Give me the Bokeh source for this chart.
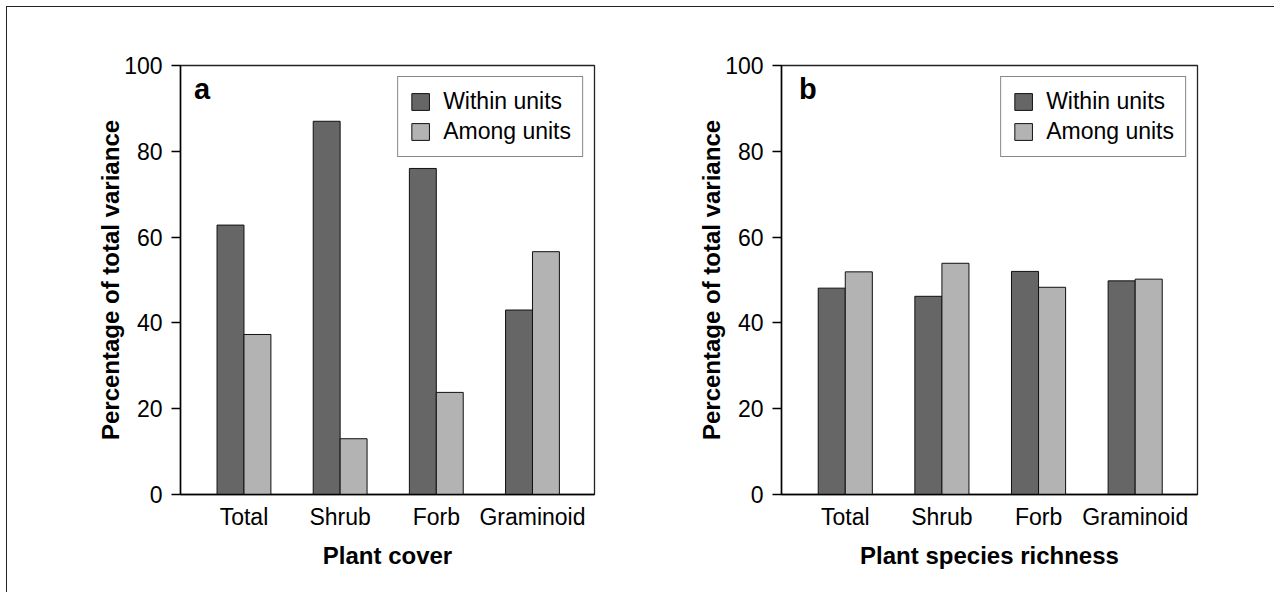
from bokeh.plotting import figure
from bokeh.layouts import row
from bokeh.models import FixedTicker, Legend, LegendItem, Label, Range1d
from bokeh.embed import file_html
from bokeh.resources import INLINE

categories = ["Total", "Shrub", "Forb", "Graminoid"]
series_names = ["Within units", "Among units"]
cover_within = [62.8, 87.0, 76.0, 43.0]
cover_among = [37.3, 13.0, 23.8, 56.6]
richness_within = [48.1, 46.2, 52.0, 49.8]
richness_among = [51.9, 53.9, 48.3, 50.2]
y_ticks = [0, 20, 40, 60, 80, 100]

FONT = "Liberation Sans"
DARK = "#666666"
LIGHT = "#b3b3b3"
BAR_W = 0.28


def make_panel(letter, xlabel, within, among, mb_left, mb_right, width, letter_x):
    p = figure(width=width, height=585, output_backend="svg", toolbar_location=None,
               x_range=Range1d(0.34, 4.645), y_range=Range1d(0, 100),
               min_border_left=mb_left, min_border_right=mb_right,
               min_border_top=58, min_border_bottom=98)
    p.grid.visible = False
    p.outline_line_color = "#222222"
    p.outline_line_width = 1.3
    p.background_fill_color = "white"
    p.border_fill_color = "white"

    xs = list(range(1, len(categories) + 1))
    r1 = p.vbar(x=[x - BAR_W / 2 for x in xs], top=within, width=BAR_W, bottom=0,
                fill_color=DARK, line_color="#111111", line_width=1)
    r2 = p.vbar(x=[x + BAR_W / 2 for x in xs], top=among, width=BAR_W, bottom=0,
                fill_color=LIGHT, line_color="#111111", line_width=1)

    xa = p.xaxis[0]
    xa.ticker = FixedTicker(ticks=xs)
    xa.major_label_overrides = {x: c for x, c in zip(xs, categories)}
    xa.major_tick_out = 0
    xa.major_tick_in = 0
    xa.minor_tick_out = 0
    xa.minor_tick_in = 0
    xa.major_label_standoff = 9
    xa.major_label_text_font = FONT
    xa.major_label_text_font_size = "23px"
    xa.major_label_text_color = "black"
    xa.axis_label = xlabel
    xa.axis_label_text_font = FONT
    xa.axis_label_text_font_size = "24px"
    xa.axis_label_text_font_style = "bold"
    xa.axis_label_text_color = "black"
    xa.axis_label_standoff = 9
    xa.axis_line_color = "black"
    xa.axis_line_width = 1.5

    ya = p.yaxis[0]
    ya.ticker = FixedTicker(ticks=y_ticks)
    ya.major_tick_out = 9
    ya.major_tick_in = 0
    ya.minor_tick_out = 0
    ya.minor_tick_in = 0
    ya.major_tick_line_color = "black"
    ya.major_tick_line_width = 1.3
    ya.major_label_standoff = 9
    ya.major_label_text_font = FONT
    ya.major_label_text_font_size = "23px"
    ya.major_label_text_color = "black"
    ya.axis_label = "Percentage of total variance"
    ya.axis_label_text_font = FONT
    ya.axis_label_text_font_size = "24px"
    ya.axis_label_text_font_style = "bold"
    ya.axis_label_text_color = "black"
    ya.axis_label_standoff = -3
    ya.axis_line_color = "black"
    ya.axis_line_width = 1.5

    legend = Legend(items=[LegendItem(label=series_names[0], renderers=[r1]),
                           LegendItem(label=series_names[1], renderers=[r2])],
                    location="top_right")
    legend.label_text_font = FONT
    legend.label_text_font_size = "23px"
    legend.label_text_color = "black"
    legend.glyph_width = 22
    legend.glyph_height = 21
    legend.label_standoff = 12
    legend.label_height = 21
    legend.padding = 11
    legend.spacing = 3
    legend.margin = 11
    legend.border_line_color = "#111111"
    legend.border_line_width = 1
    legend.background_fill_alpha = 1
    p.add_layout(legend)

    p.add_layout(Label(x=letter_x, y=94.5, text=letter, text_font=FONT,
                       text_font_size="29px", text_font_style="bold",
                       text_color="black", text_baseline="alphabetic"))
    return p


p1 = make_panel("a", "Plant cover", cover_within, cover_among, 173, 85, 672, 0.48)
p2 = make_panel("b", "Plant species richness", richness_within, richness_among, 102, 77, 595, 0.52)

layout = row(p1, p2, styles={"border-left": "1.5px solid #222222",
                             "border-top": "1.5px solid #222222",
                             "margin-left": "6px", "margin-top": "6px"})

open("out.html", "w").write(file_html(layout, INLINE))
